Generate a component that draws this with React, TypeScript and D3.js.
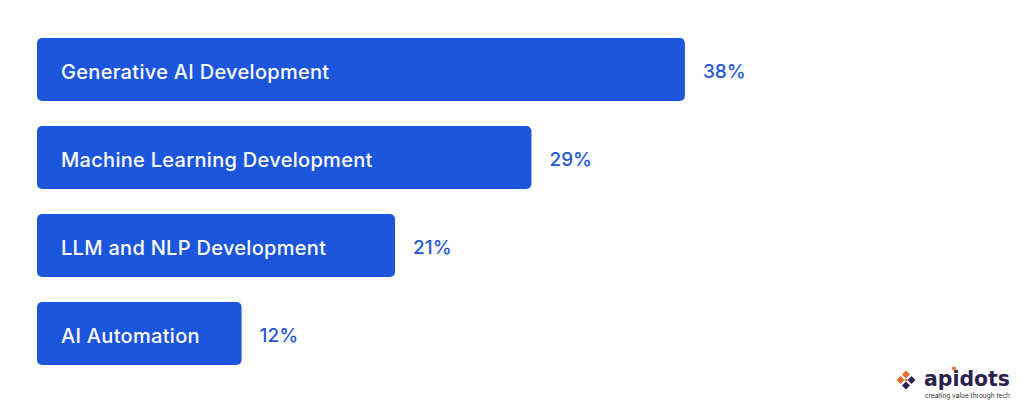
import * as d3 from 'd3';
import { useEffect, useRef } from 'react';

const categories = ['Generative AI Development', 'Machine Learning Development', 'LLM and NLP Development', 'AI Automation'];
const shares = [38, 29, 21, 12];

const width = 1024;
const height = 404;
const barColor = '#1c56dc';
const valueColor = '#2457d6';
const navy = '#2b2150';

const App: React.FC = () => {
    const svgRef = useRef<SVGSVGElement | null>(null);

    useEffect(() => {
        if (!svgRef.current) return;
        const svg = d3.select(svgRef.current);
        svg.selectAll('*').remove();

        const margin = { top: 38, left: 37 };
        const pxPerPct = 17.05;
        const step = 88;
        const gap = 25;

        const xScale = d3
            .scaleLinear()
            .domain([0, 38])
            .range([margin.left, margin.left + 38 * pxPerPct]);

        // band range sized so each row occupies `step` px with `gap` px between bars
        const yScale = d3
            .scaleBand<string>()
            .domain(categories)
            .range([margin.top, margin.top + step * categories.length - gap])
            .paddingInner(gap / step)
            .paddingOuter(0);

        svg.append('rect').attr('width', width).attr('height', height).attr('fill', '#ffffff');

        const rows = svg
            .selectAll<SVGGElement, string>('.row')
            .data(categories)
            .join('g')
            .attr('class', 'row');

        rows.append('rect')
            .attr('x', xScale(0))
            .attr('y', (d) => yScale(d)!)
            .attr('width', (_, i) => xScale(shares[i]) - xScale(0))
            .attr('height', yScale.bandwidth())
            .attr('rx', 5)
            .attr('fill', barColor);

        rows.append('text')
            .attr('x', xScale(0) + 24)
            .attr('y', (d) => yScale(d)! + yScale.bandwidth() / 2 + 2)
            .attr('dy', '0.36em')
            .attr('fill', '#ffffff')
            .style('font-family', 'Inter, "Noto Sans", sans-serif')
            .style('font-weight', '500')
            .style('font-size', '20px')
            .style('letter-spacing', '0.3px')
            .text((d) => d);

        rows.append('text')
            .attr('x', (_, i) => xScale(shares[i]) + 18)
            .attr('y', (d) => yScale(d)! + yScale.bandwidth() / 2 + 2)
            .attr('dy', '0.36em')
            .attr('fill', valueColor)
            .style('font-family', 'Inter, "Noto Sans", sans-serif')
            .style('font-weight', '500')
            .style('font-size', '19px')
            .text((_, i) => `${shares[i]}%`);

        // Logo
        const logo = svg.append('g').attr('transform', 'translate(897,367)');
        const icon = logo.append('g').attr('transform', 'translate(9,13)');
        const piece = (dx: number, dy: number, fill: string) =>
            icon.append('path')
                .attr('d', 'M0,-4 L4,0 L0,4 L-4,0 Z')
                .attr('transform', `translate(${dx},${dy})`)
                .attr('fill', fill);
        piece(0, -5.5, '#e8692b');
        piece(-5.5, 0, '#e06a2c');
        piece(5.5, 0, navy);
        piece(0, 5.5, navy);
        icon.append('circle').attr('r', 1.3).attr('fill', '#e8692b');

        logo.append('text')
            .attr('x', 27)
            .attr('y', 19)
            .attr('fill', navy)
            .style('font-family', '"DejaVu Sans", sans-serif')
            .style('font-weight', '700')
            .style('font-size', '21px')
            .attr('textLength', 86)
            .attr('lengthAdjust', 'spacingAndGlyphs')
            .text('apidots');
        logo.append('circle').attr('cx', 57).attr('cy', 1.5).attr('r', 2).attr('fill', '#e8692b');

        logo.append('text')
            .attr('x', 28)
            .attr('y', 31)
            .attr('fill', '#333333')
            .style('font-family', 'Inter, sans-serif')
            .style('font-size', '7px')
            .attr('textLength', 85)
            .attr('lengthAdjust', 'spacingAndGlyphs')
            .text('creating value through tech');
    }, []);

    return (
        <div style={{ position: 'absolute', top: 0, left: 0, width, height }}>
            <svg ref={svgRef} width={width} height={height} style={{ display: 'block' }}></svg>
        </div>
    );
};

export default App;
